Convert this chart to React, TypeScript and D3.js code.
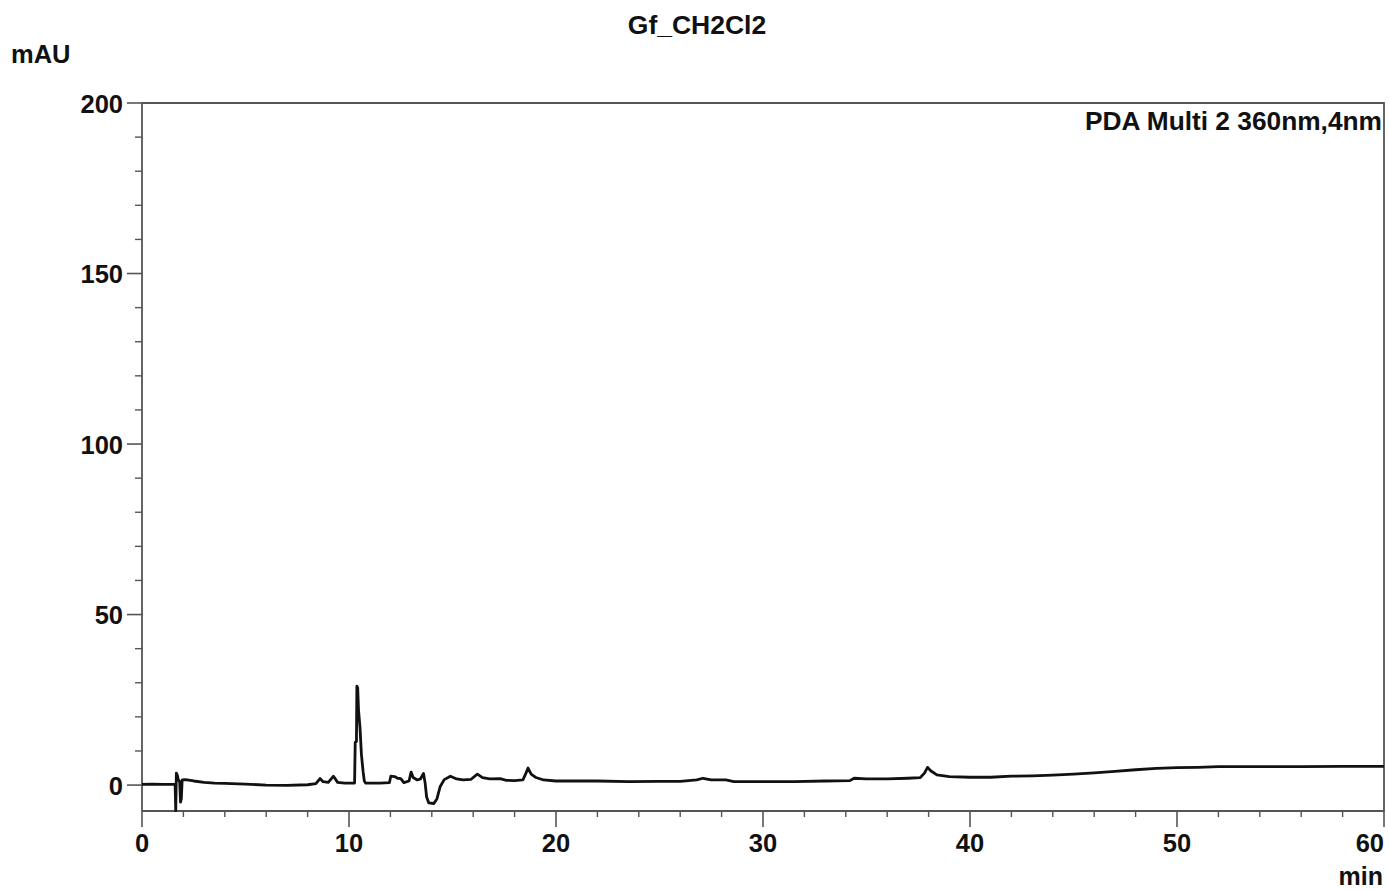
import React from "react";
import * as d3 from "d3";

const TITLE = "Gf_CH2Cl2";
const Y_UNIT = "mAU";
const X_UNIT = "min";
const CHANNEL = "PDA Multi 2 360nm,4nm";

const xTicks = [0, 10, 20, 30, 40, 50, 60];
const yTicks = [0, 50, 100, 150, 200];

const times = [
  0, 0.5, 1.0, 1.5, 1.6, 1.63, 1.66, 1.7, 1.76, 1.82, 1.86, 1.9, 1.94, 2.1, 2.5, 3.0, 3.5, 4.0, 5.0, 6.0,
  7.0, 8.0, 8.4, 8.6, 8.75, 9.0, 9.25, 9.45, 9.8, 10.27, 10.3, 10.36, 10.38, 10.42, 10.46, 10.53, 10.6, 10.68,
  10.74, 10.8, 11.5, 11.95, 12.02, 12.2, 12.35, 12.5, 12.65, 12.9, 13.0, 13.1, 13.3, 13.45, 13.6, 13.68,
  13.75, 13.85, 14.1, 14.25, 14.4, 14.6, 14.9, 15.2, 15.5, 15.9, 16.2, 16.45, 16.8, 17.3, 17.6, 18.0, 18.4,
  18.55, 18.65, 18.8, 19.0, 19.4, 20.0, 22, 23.5, 25, 26, 26.8, 27.1, 27.5, 28.2, 28.6, 30, 31.5, 33, 34.2,
  34.4, 35, 36, 37, 37.6, 37.8, 37.95, 38.1, 38.4, 39, 40, 41, 42, 43, 44, 45, 46, 47, 48, 49, 50, 51, 52,
  54, 56, 58, 60,
];

const absorbance = [
  0.2, 0.3, 0.2, 0.2, 0.3, -7.5, 3.5, 3.0, 1.5, 1.0, -5.0, -4.0, 1.5, 1.6, 1.2, 0.8, 0.6, 0.5, 0.3, 0.0,
  -0.1, 0.1, 0.4, 1.9, 1.0, 0.8, 2.6, 0.8, 0.6, 0.6, 12.5, 12.8, 29, 28.5, 22, 17, 9, 4,
  1.2, 0.6, 0.6, 0.7, 2.6, 2.5, 2.0, 1.9, 0.7, 1.2, 3.8, 2.2, 1.5, 1.8, 3.4, 0.5,
  -3.5, -5.2, -5.4, -4, -0.5, 1.6, 2.6, 1.8, 1.5, 1.7, 3.2, 2.2, 1.8, 1.9, 1.4, 1.3, 1.5,
  3.5, 5.0, 3.2, 2.3, 1.5, 1.2, 1.2, 1.0, 1.1, 1.1, 1.5, 2.0, 1.5, 1.5, 1.0, 1.0, 1.0, 1.2, 1.3,
  2.0, 1.8, 1.8, 2.0, 2.2, 3.5, 5.2, 4.2, 3.0, 2.5, 2.3, 2.3, 2.6, 2.7, 2.9, 3.2, 3.6, 4.0, 4.5, 4.9, 5.1, 5.2, 5.4,
  5.4, 5.4, 5.5, 5.5,
];

const W = 1389;
const H = 890;
const left = 142;
const right = 1384;
const top = 103;
const bottom = 811;

export default function App() {
  const x = d3.scaleLinear().domain([0, 60]).range([left, right]);
  const y = d3.scaleLinear().domain([-7.6, 200]).range([bottom, top]);
  const pts: [number, number][] = times.map((t, i) => [t, absorbance[i]]);
  const line = d3
    .line<[number, number]>()
    .x((d) => x(d[0]))
    .y((d) => y(d[1]));
  const xMinor = d3.range(0, 61, 2).filter((v) => v % 10 !== 0);
  const yMinor = d3.range(0, 201, 10).filter((v) => v % 50 !== 0);
  const font = "'Liberation Sans', Arial, sans-serif";
  const axisColor = "#555";

  return (
    <svg
      width={W}
      height={H}
      style={{ position: "absolute", left: 0, top: 0, background: "#fff" }}
      fontFamily={font}
      fontWeight="bold"
    >
      <rect x={0} y={0} width={W} height={H} fill="#fff" />
      <text x={697} y={34} fontSize={26.5} textAnchor="middle" fill="#111">
        {TITLE}
      </text>
      <text x={11} y={63} fontSize={25.5} fill="#111">
        {Y_UNIT}
      </text>
      <text x={1383} y={885} fontSize={25} textAnchor="end" fill="#111">
        {X_UNIT}
      </text>
      <text x={1382} y={130} fontSize={26.3} textAnchor="end" fill="#111">
        {CHANNEL}
      </text>

      {/* frame */}
      <path
        d={`M${left},${bottom}V${top}H${right}V${bottom}H${left}`}
        fill="none"
        stroke={axisColor}
        strokeWidth={1.8}
      />

      {/* y ticks */}
      {yTicks.map((v) => (
        <g key={"yt" + v}>
          <line x1={left - 15} x2={left} y1={y(v)} y2={y(v)} stroke={axisColor} strokeWidth={1.6} />
          <text x={123} y={y(v) + 9.5} fontSize={25.5} textAnchor="end" fill="#111">
            {v}
          </text>
        </g>
      ))}
      {yMinor.map((v) => (
        <line key={"ym" + v} x1={left - 7} x2={left} y1={y(v)} y2={y(v)} stroke={axisColor} strokeWidth={1.4} />
      ))}

      {/* x ticks */}
      {xTicks.map((v) => (
        <g key={"xt" + v}>
          <line x1={x(v)} x2={x(v)} y1={bottom} y2={bottom + 16} stroke={axisColor} strokeWidth={1.6} />
          <text x={x(v)} y={852} fontSize={25.5} textAnchor={v === 60 ? "end" : "middle"} fill="#111">
            {v}
          </text>
        </g>
      ))}
      {xMinor.map((v) => (
        <line key={"xm" + v} x1={x(v)} x2={x(v)} y1={bottom} y2={bottom + 6} stroke={axisColor} strokeWidth={1.4} />
      ))}

      {/* trace */}
      <path d={line(pts) || ""} fill="none" stroke="#111" strokeWidth={2.8} strokeLinejoin="round" />
    </svg>
  );
}
